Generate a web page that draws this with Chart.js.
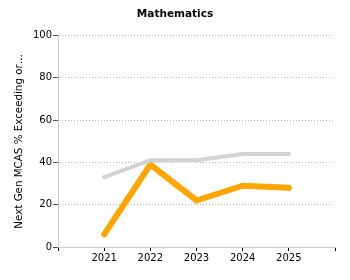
<!DOCTYPE html>
<html>
<head>
<meta charset="utf-8">
<script src="https://cdn.jsdelivr.net/npm/chart.js@4"></script>
<style>
  html, body { margin: 0; padding: 0; background: #fff; }
  #wrap { width: 350px; height: 280px; }
</style>
</head>
<body>
<div id="wrap"><canvas id="myChart"></canvas></div>
<script>
"use strict"

const years = ["", "2021", "2022", "2023", "2024", "2025", ""];
const schoolValues = [null, 6, 39, 22, 29, 28, null];
const stateValues = [null, 33, 41, 41, 44, 44, null];
const yTicks = [0, 20, 40, 60, 80, 100];

document.addEventListener("DOMContentLoaded", init);

function init(){
    const ctx = document.getElementById('myChart').getContext('2d');
    Chart.defaults.font.family = "'DejaVu Sans', Verdana, sans-serif";
    Chart.defaults.font.size = 10;
    Chart.defaults.color = '#000';
    new Chart(ctx, {
        type: 'line',
        data: {
            labels: years,
            datasets: [{
                label: "State",
                data: stateValues,
                borderColor: '#d3d3d3',
                backgroundColor: '#d3d3d3',
                borderWidth: 4,
                pointRadius: 2,
                pointStyle: 'crossRot',
                pointBorderWidth: 2,
                tension: 0
            }, {
                label: "School",
                data: schoolValues,
                borderColor: '#ffa500',
                backgroundColor: '#ffa500',
                borderWidth: 6,
                borderCapStyle: 'round',
                borderJoinStyle: 'miter',
                pointRadius: 0,
                tension: 0
            }]
        },
        options: {
            responsive: true,
            maintainAspectRatio: false,
            animation: false,
            layout: { padding: { top: 0, right: 15, bottom: 0, left: 0 } },
            plugins: {
                legend: { display: false },
                tooltip: { enabled: false },
                title: {
                    display: true,
                    text: 'Mathematics',
                    font: { size: 10.5, weight: 'bold' },
                    color: '#000',
                    padding: { top: 8, bottom: 15 }
                }
            },
            scales: {
                x: {
                    offset: false,
                    grid: {
                        drawOnChartArea: false,
                        drawTicks: true,
                        tickLength: 4,
                        color: '#000'
                    },
                    border: { color: '#cccccc', width: 1 },
                    ticks: { autoSkip: false, maxRotation: 0, padding: 1, color: '#000' },
                    afterFit: function(scale){ scale.height = 33; }
                },
                y: {
                    min: 0,
                    max: 100,
                    afterBuildTicks: function(scale){
                        scale.ticks = yTicks.map(v => ({ value: v }));
                    },
                    grid: {
                        color: '#bbbbbb',
                        lineWidth: 1,
                        tickLength: 5,
                        tickColor: '#555',
                        tickBorderDash: [],
                    },
                    // in v4 border.dash is the dash of the grid lines
                    border: { color: '#cccccc', width: 1, dash: [1, 2] },
                    ticks: { padding: 1, color: '#000' },
                    title: {
                        display: true,
                        text: 'Next Gen MCAS % Exceeding or…',
                        font: { size: 10.3 },
                        color: '#000',
                        padding: { top: 13, bottom: 0 }
                    },
                    afterFit: function(scale){ scale.width = 58; }
                }
            }
        },
        plugins: [{
            id: 'centerTitle',
            afterLayout(chart){
                // center the title over the whole canvas, not the padded box
                const tb = chart.titleBlock;
                if (tb) {
                    tb.left = 0;
                    tb.right = chart.width;
                    tb.width = chart.width;
                }
            }
        }]
    });
}
</script>
</body>
</html>
